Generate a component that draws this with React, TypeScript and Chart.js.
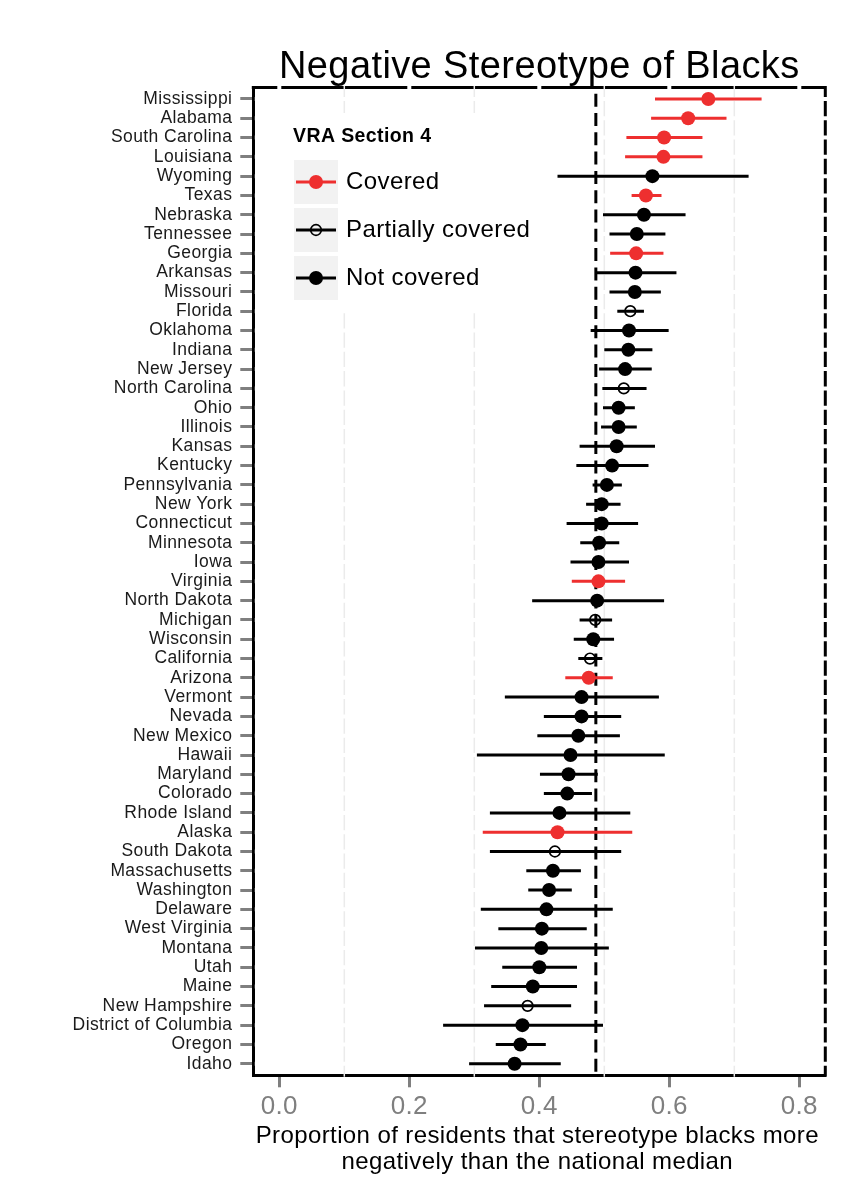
import React, { useEffect, useRef } from "react";
import { Chart, registerables } from "chart.js";

Chart.register(...registerables);

// States, ordered from the highest to the lowest share
const STATES = [
  "Mississippi", "Alabama", "South Carolina", "Louisiana", "Wyoming", "Texas",
  "Nebraska", "Tennessee", "Georgia", "Arkansas", "Missouri", "Florida",
  "Oklahoma", "Indiana", "New Jersey", "North Carolina", "Ohio", "Illinois",
  "Kansas", "Kentucky", "Pennsylvania", "New York", "Connecticut", "Minnesota",
  "Iowa", "Virginia", "North Dakota", "Michigan", "Wisconsin", "California",
  "Arizona", "Vermont", "Nevada", "New Mexico", "Hawaii", "Maryland",
  "Colorado", "Rhode Island", "Alaska", "South Dakota", "Massachusetts",
  "Washington", "Delaware", "West Virginia", "Montana", "Utah", "Maine",
  "New Hampshire", "District of Columbia", "Oregon", "Idaho",
];

// Point estimates
const ESTIMATE = [
  0.660, 0.629, 0.592, 0.591, 0.574, 0.564,
  0.561, 0.550, 0.549, 0.548, 0.547, 0.540,
  0.538, 0.537, 0.532, 0.530, 0.522, 0.522,
  0.519, 0.512, 0.504, 0.496, 0.496, 0.492,
  0.491, 0.491, 0.489, 0.486, 0.483, 0.478,
  0.476, 0.465, 0.465, 0.460, 0.448, 0.445,
  0.443, 0.431, 0.428, 0.424, 0.421,
  0.415, 0.411, 0.404, 0.403, 0.400, 0.390,
  0.382, 0.374, 0.371, 0.362,
];

// Interval lower bounds
const LOWER = [
  0.578, 0.572, 0.534, 0.532, 0.428, 0.542,
  0.498, 0.508, 0.509, 0.487, 0.508, 0.520,
  0.479, 0.500, 0.492, 0.497, 0.498, 0.495,
  0.462, 0.457, 0.482, 0.472, 0.442, 0.463,
  0.448, 0.450, 0.389, 0.462, 0.453, 0.460,
  0.440, 0.347, 0.407, 0.397, 0.304, 0.401,
  0.407, 0.324, 0.313, 0.324, 0.380,
  0.383, 0.310, 0.337, 0.301, 0.343, 0.326,
  0.315, 0.252, 0.333, 0.292,
];

// Interval upper bounds
const UPPER = [
  0.742, 0.688, 0.651, 0.651, 0.722, 0.588,
  0.625, 0.594, 0.591, 0.611, 0.587, 0.561,
  0.599, 0.574, 0.573, 0.565, 0.547, 0.550,
  0.578, 0.568, 0.527, 0.525, 0.552, 0.523,
  0.538, 0.532, 0.592, 0.512, 0.515, 0.497,
  0.513, 0.584, 0.526, 0.524, 0.593, 0.490,
  0.481, 0.540, 0.543, 0.526, 0.464,
  0.450, 0.513, 0.473, 0.507, 0.458, 0.458,
  0.449, 0.498, 0.410, 0.433,
];

// VRA Section 4 coverage: C = covered, P = partially covered, N = not covered
const COVERAGE = [
  "C", "C", "C", "C", "N", "C",
  "N", "N", "C", "N", "N", "P",
  "N", "N", "N", "P", "N", "N",
  "N", "N", "N", "N", "N", "N",
  "N", "C", "N", "P", "N", "P",
  "C", "N", "N", "N", "N", "N",
  "N", "N", "C", "P", "N",
  "N", "N", "N", "N", "N", "N",
  "P", "N", "N", "N",
];

const NATIONAL_MEDIAN = 0.487;
const X_TICKS = [0, 0.2, 0.4, 0.6, 0.8];
const X_MINOR = [0.1, 0.3, 0.5, 0.7];

const GROUP_KEYS = ["C", "P", "N"];
const GROUP_LABELS = ["Covered", "Partially covered", "Not covered"];

const TITLE = "Negative Stereotype of Blacks";
const LEGEND_TITLE = "VRA Section 4";
const X_TITLE = [
  "Proportion of residents that stereotype blacks more",
  "negatively than the national median",
];

const RED = "#ee2f2f";
const FONT = "'Liberation Sans', Arial, Helvetica, sans-serif";

const GROUP_STYLE: Record<string, { color: string; open: boolean }> = {
  C: { color: RED, open: false },
  P: { color: "#000000", open: true },
  N: { color: "#000000", open: false },
};

const FILLED_R = 7;
const OPEN_R = 5.3;
const OPEN_W = 1.7;

function buildDatasets() {
  const sets: any[] = [];
  GROUP_KEYS.forEach((g) => {
    const idx = STATES.map((_, i) => i).filter((i) => COVERAGE[i] === g);
    const st = GROUP_STYLE[g];
    // horizontal interval segments, separated by gaps
    sets.push({
      type: "line",
      data: idx.flatMap((i) => [
        { x: LOWER[i], y: i },
        { x: UPPER[i], y: i },
        { x: null, y: null },
      ]),
      borderColor: st.color,
      borderWidth: 3,
      borderCapStyle: "butt",
      pointRadius: 0,
      showLine: true,
      spanGaps: false,
      tension: 0,
      order: 2,
    });
    // estimate markers
    sets.push({
      type: "scatter",
      data: idx.map((i) => ({ x: ESTIMATE[i], y: i })),
      pointRadius: st.open ? OPEN_R : FILLED_R,
      pointBackgroundColor: st.open ? "rgba(0,0,0,0)" : st.color,
      pointBorderColor: st.color,
      pointBorderWidth: st.open ? OPEN_W : 0,
      showLine: false,
      order: 1,
    });
  });
  return sets;
}

const panelDecor = {
  id: "panelDecor",
  beforeDraw(chart: any) {
    chart.ctx.letterSpacing = "0.4px";
  },
  beforeDatasetsDraw(chart: any) {
    const { ctx, chartArea: a, scales } = chart;
    const x = scales.x;
    const y = scales.y;
    ctx.save();
    // top and right panel border
    ctx.strokeStyle = "#000";
    ctx.lineWidth = 3;
    ctx.beginPath();
    ctx.moveTo(a.left - 1.5, a.top);
    ctx.lineTo(a.right, a.top);
    ctx.lineTo(a.right, a.bottom + 1.5);
    ctx.stroke();
    // minor vertical grid
    ctx.strokeStyle = "#ebebeb";
    ctx.lineWidth = 1.5;
    X_MINOR.forEach((v) => {
      const px = x.getPixelForValue(v);
      ctx.beginPath();
      ctx.moveTo(px, a.top - 1.5);
      ctx.lineTo(px, a.bottom + 1.5);
      ctx.stroke();
    });
    // major grid (white)
    ctx.strokeStyle = "#ffffff";
    ctx.lineWidth = 4;
    X_TICKS.forEach((v) => {
      const px = x.getPixelForValue(v);
      ctx.beginPath();
      ctx.moveTo(px, a.top - 2);
      ctx.lineTo(px, a.bottom - 1.5);
      ctx.stroke();
    });
    STATES.forEach((_, i) => {
      const py = y.getPixelForValue(i);
      ctx.beginPath();
      ctx.moveTo(a.left + 1.5, py);
      ctx.lineTo(a.right + 2, py);
      ctx.stroke();
    });
    // national median
    const mx = x.getPixelForValue(NATIONAL_MEDIAN);
    ctx.strokeStyle = "#000";
    ctx.lineWidth = 3;
    ctx.setLineDash([13, 6.3]);
    ctx.lineDashOffset = 13;
    ctx.beginPath();
    ctx.moveTo(mx, a.top);
    ctx.lineTo(mx, a.bottom);
    ctx.stroke();
    ctx.restore();
  },
  afterDraw(chart: any) {
    const { ctx, chartArea: a } = chart;
    ctx.save();
    ctx.letterSpacing = "0.4px";
    // title
    ctx.fillStyle = "#000";
    ctx.textAlign = "center";
    ctx.textBaseline = "alphabetic";
    ctx.font = `38px ${FONT}`;
    ctx.fillText(TITLE, (a.left + a.right) / 2, 78);

    // x axis title
    ctx.font = `24px ${FONT}`;
    ctx.textBaseline = "middle";
    X_TITLE.forEach((line, k) => {
      ctx.fillText(line, (a.left + a.right) / 2 - 2, 1136 + k * 26);
    });

    // legend
    ctx.fillStyle = "#ffffff";
    ctx.fillRect(282, 113, 262, 200);
    ctx.fillStyle = "#000";
    ctx.textAlign = "left";
    ctx.font = `bold 19.5px ${FONT}`;
    ctx.fillText(LEGEND_TITLE, 293, 137);
    GROUP_KEYS.forEach((g, k) => {
      const st = GROUP_STYLE[g];
      const top = 160 + k * 48;
      const cy = top + 22;
      ctx.fillStyle = "#f2f2f2";
      ctx.fillRect(294, top, 44, 44);
      ctx.strokeStyle = st.color;
      ctx.lineWidth = 3;
      ctx.beginPath();
      ctx.moveTo(296, cy);
      ctx.lineTo(336, cy);
      ctx.stroke();
      ctx.beginPath();
      if (st.open) {
        ctx.arc(316, cy, OPEN_R, 0, Math.PI * 2);
        ctx.lineWidth = OPEN_W;
        ctx.stroke();
      } else {
        ctx.arc(316, cy, FILLED_R, 0, Math.PI * 2);
        ctx.fillStyle = st.color;
        ctx.fill();
      }
      ctx.fillStyle = "#000";
      ctx.font = `24px ${FONT}`;
      ctx.fillText(GROUP_LABELS[k], 346, cy);
    });
    ctx.restore();
  },
};

export default function App() {
  const ref = useRef<HTMLCanvasElement>(null);

  useEffect(() => {
    if (!ref.current) return;
    const chart = new Chart(ref.current, {
      type: "scatter",
      data: { datasets: buildDatasets() },
      options: {
        animation: false,
        responsive: false,
        maintainAspectRatio: false,
        devicePixelRatio: 1,
        events: [],
        layout: { padding: { left: 0, top: 87.4, right: 38.7, bottom: 64.7 } },
        plugins: {
          legend: { display: false },
          tooltip: { enabled: false },
          title: { display: false },
        },
        scales: {
          x: {
            type: "linear",
            min: -0.04,
            max: 0.84,
            afterBuildTicks: (s: any) => {
              s.ticks = X_TICKS.map((v) => ({ value: v }));
            },
            afterFit: (s: any) => {
              s.height = 60;
            },
            ticks: {
              callback: (v: any) => Number(v).toFixed(1),
              color: "#7f7f7f",
              font: { family: FONT, size: 26 },
              padding: 4,
              maxRotation: 0,
              minRotation: 0,
              autoSkip: false,
            },
            grid: {
              drawOnChartArea: false,
              drawTicks: true,
              tickLength: 12,
              tickWidth: 3,
              tickColor: "#7f7f7f",
              color: "#7f7f7f",
            },
            border: { display: true, color: "#000", width: 3 },
          },
          y: {
            type: "linear",
            min: -0.6,
            max: 50.6,
            reverse: true,
            afterBuildTicks: (s: any) => {
              s.ticks = STATES.map((_, i) => ({ value: i }));
            },
            afterFit: (s: any) => {
              s.width = 253.3;
            },
            ticks: {
              callback: (v: any) => STATES[v] ?? "",
              color: "#1a1a1a",
              font: { family: FONT, size: 17.5 },
              padding: 8,
              autoSkip: false,
            },
            grid: {
              drawOnChartArea: false,
              drawTicks: true,
              tickLength: 13,
              tickWidth: 3,
              tickColor: "#7f7f7f",
              color: "#7f7f7f",
            },
            border: { display: true, color: "#000", width: 3 },
          },
        },
      },
      plugins: [panelDecor],
    } as any);
    return () => chart.destroy();
  }, []);

  return (
    <div
      style={{
        position: "absolute",
        left: 0,
        top: 0,
        width: 864,
        height: 1200,
        background: "#ffffff",
      }}
    >
      <canvas ref={ref} width={864} height={1200} style={{ display: "block" }} />
    </div>
  );
}
